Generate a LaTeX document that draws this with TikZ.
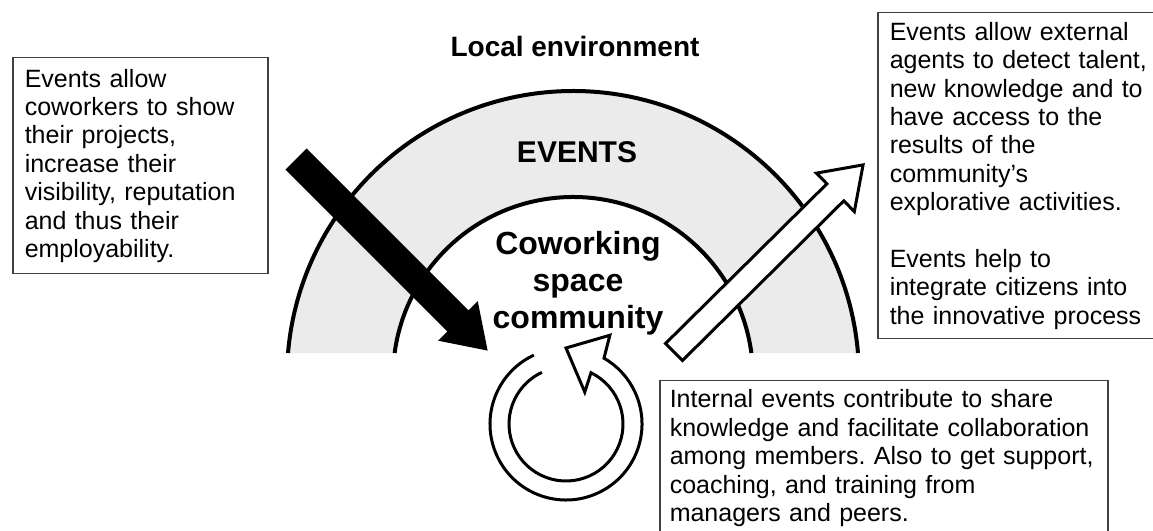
\documentclass[tikz,border=0pt]{standalone}
\usepackage{fontspec}
\setmainfont{Liberation Sans}
\usetikzlibrary{calc}
\frenchspacing
\hyphenpenalty=10000
\exhyphenpenalty=10000

\begin{document}
\begin{tikzpicture}[x=1pt, y=1pt,
  textbox/.style={draw=black!75, line width=1.5pt, align=left, anchor=north west,
    inner xsep=12pt, inner ysep=0pt, font=\fontsize{25}{28.4}\selectfont},
  ring/.style={line width=4pt}]
\path[use as bounding box, clip] (0,0) rectangle (1153,530);

% half rings of the local environment
\coordinate (ctr) at (573,153);
\fill[black!8] ($(ctr)+(4.81:286)$) arc[start angle=4.81, end angle=175.19, radius=286]
  -- ($(ctr)+(172.34:180)$) arc[start angle=172.34, end angle=7.66, radius=180] -- cycle;
\draw[ring] ($(ctr)+(4.81:286)$) arc[start angle=4.81, end angle=175.19, radius=286];
\draw[ring] ($(ctr)+(7.66:180)$) arc[start angle=7.66, end angle=172.34, radius=180];

% arrow in (black) and arrow out (white)
\coordinate (inTail) at (296,371);
\coordinate (outTail) at (674,178);
\begin{scope}[shift={(inTail)}, rotate=-45]
  \fill (0,-15) -- (229,-15) -- (229,-28) -- (271,0) -- (229,28) -- (229,15) -- (0,15) -- cycle;
\end{scope}
\begin{scope}[shift={(outTail)}, rotate=44.7]
  \draw[line width=3pt, fill=white, line join=miter]
    (0,-12) -- (227,-12) -- (227,-27) -- (266,0) -- (227,27) -- (227,12) -- (0,12) -- cycle;
\end{scope}

% internal loop
\coordinate (loop) at (566,106);
\draw[line width=3pt, line join=miter]
  ($(loop)+(115:76)$) arc[start angle=115, end angle=420, radius=76]
  -- ($(loop)+(63.7:99)$) -- ($(loop)+(90:76)$) -- ($(loop)+(59.5:37)$)
  -- ($(loop)+(64:57)$) arc[start angle=64, end angle=-245, radius=57];

% labels
\node[font=\bfseries\fontsize{28}{32}\selectfont] (local) at (575,484) {Local environment};
\node[font=\bfseries\fontsize{30}{34}\selectfont] (events) at (577,378) {EVENTS};
\node[font=\bfseries\fontsize{32}{37}\selectfont, align=center] (community) at (578,247)
  {Coworking\\space\\community};

% text boxes
\node[textbox, text width=231pt, minimum height=216pt] (coworkers) at (12,473)
  {Events allow\\coworkers to show\\their projects,\\increase their\\visibility, reputation\\and thus their\\employability.};
\node[textbox, text width=262pt, minimum height=326pt] (external) at (877,518)
  {Events allow external\\agents to detect talent,\\new knowledge and to\\have access to the\\results of the\\community's\\explorative activities.\\[28.4pt]Events help to\\integrate citizens into\\the innovative process};
\node[textbox, text width=428pt, inner xsep=10pt, minimum height=155pt] (internal) at (659,150)
  {Internal events contribute to share\\knowledge and facilitate collaboration\\among members. Also to get support,\\coaching, and training from\\managers and peers.};
\end{tikzpicture}
\end{document}
